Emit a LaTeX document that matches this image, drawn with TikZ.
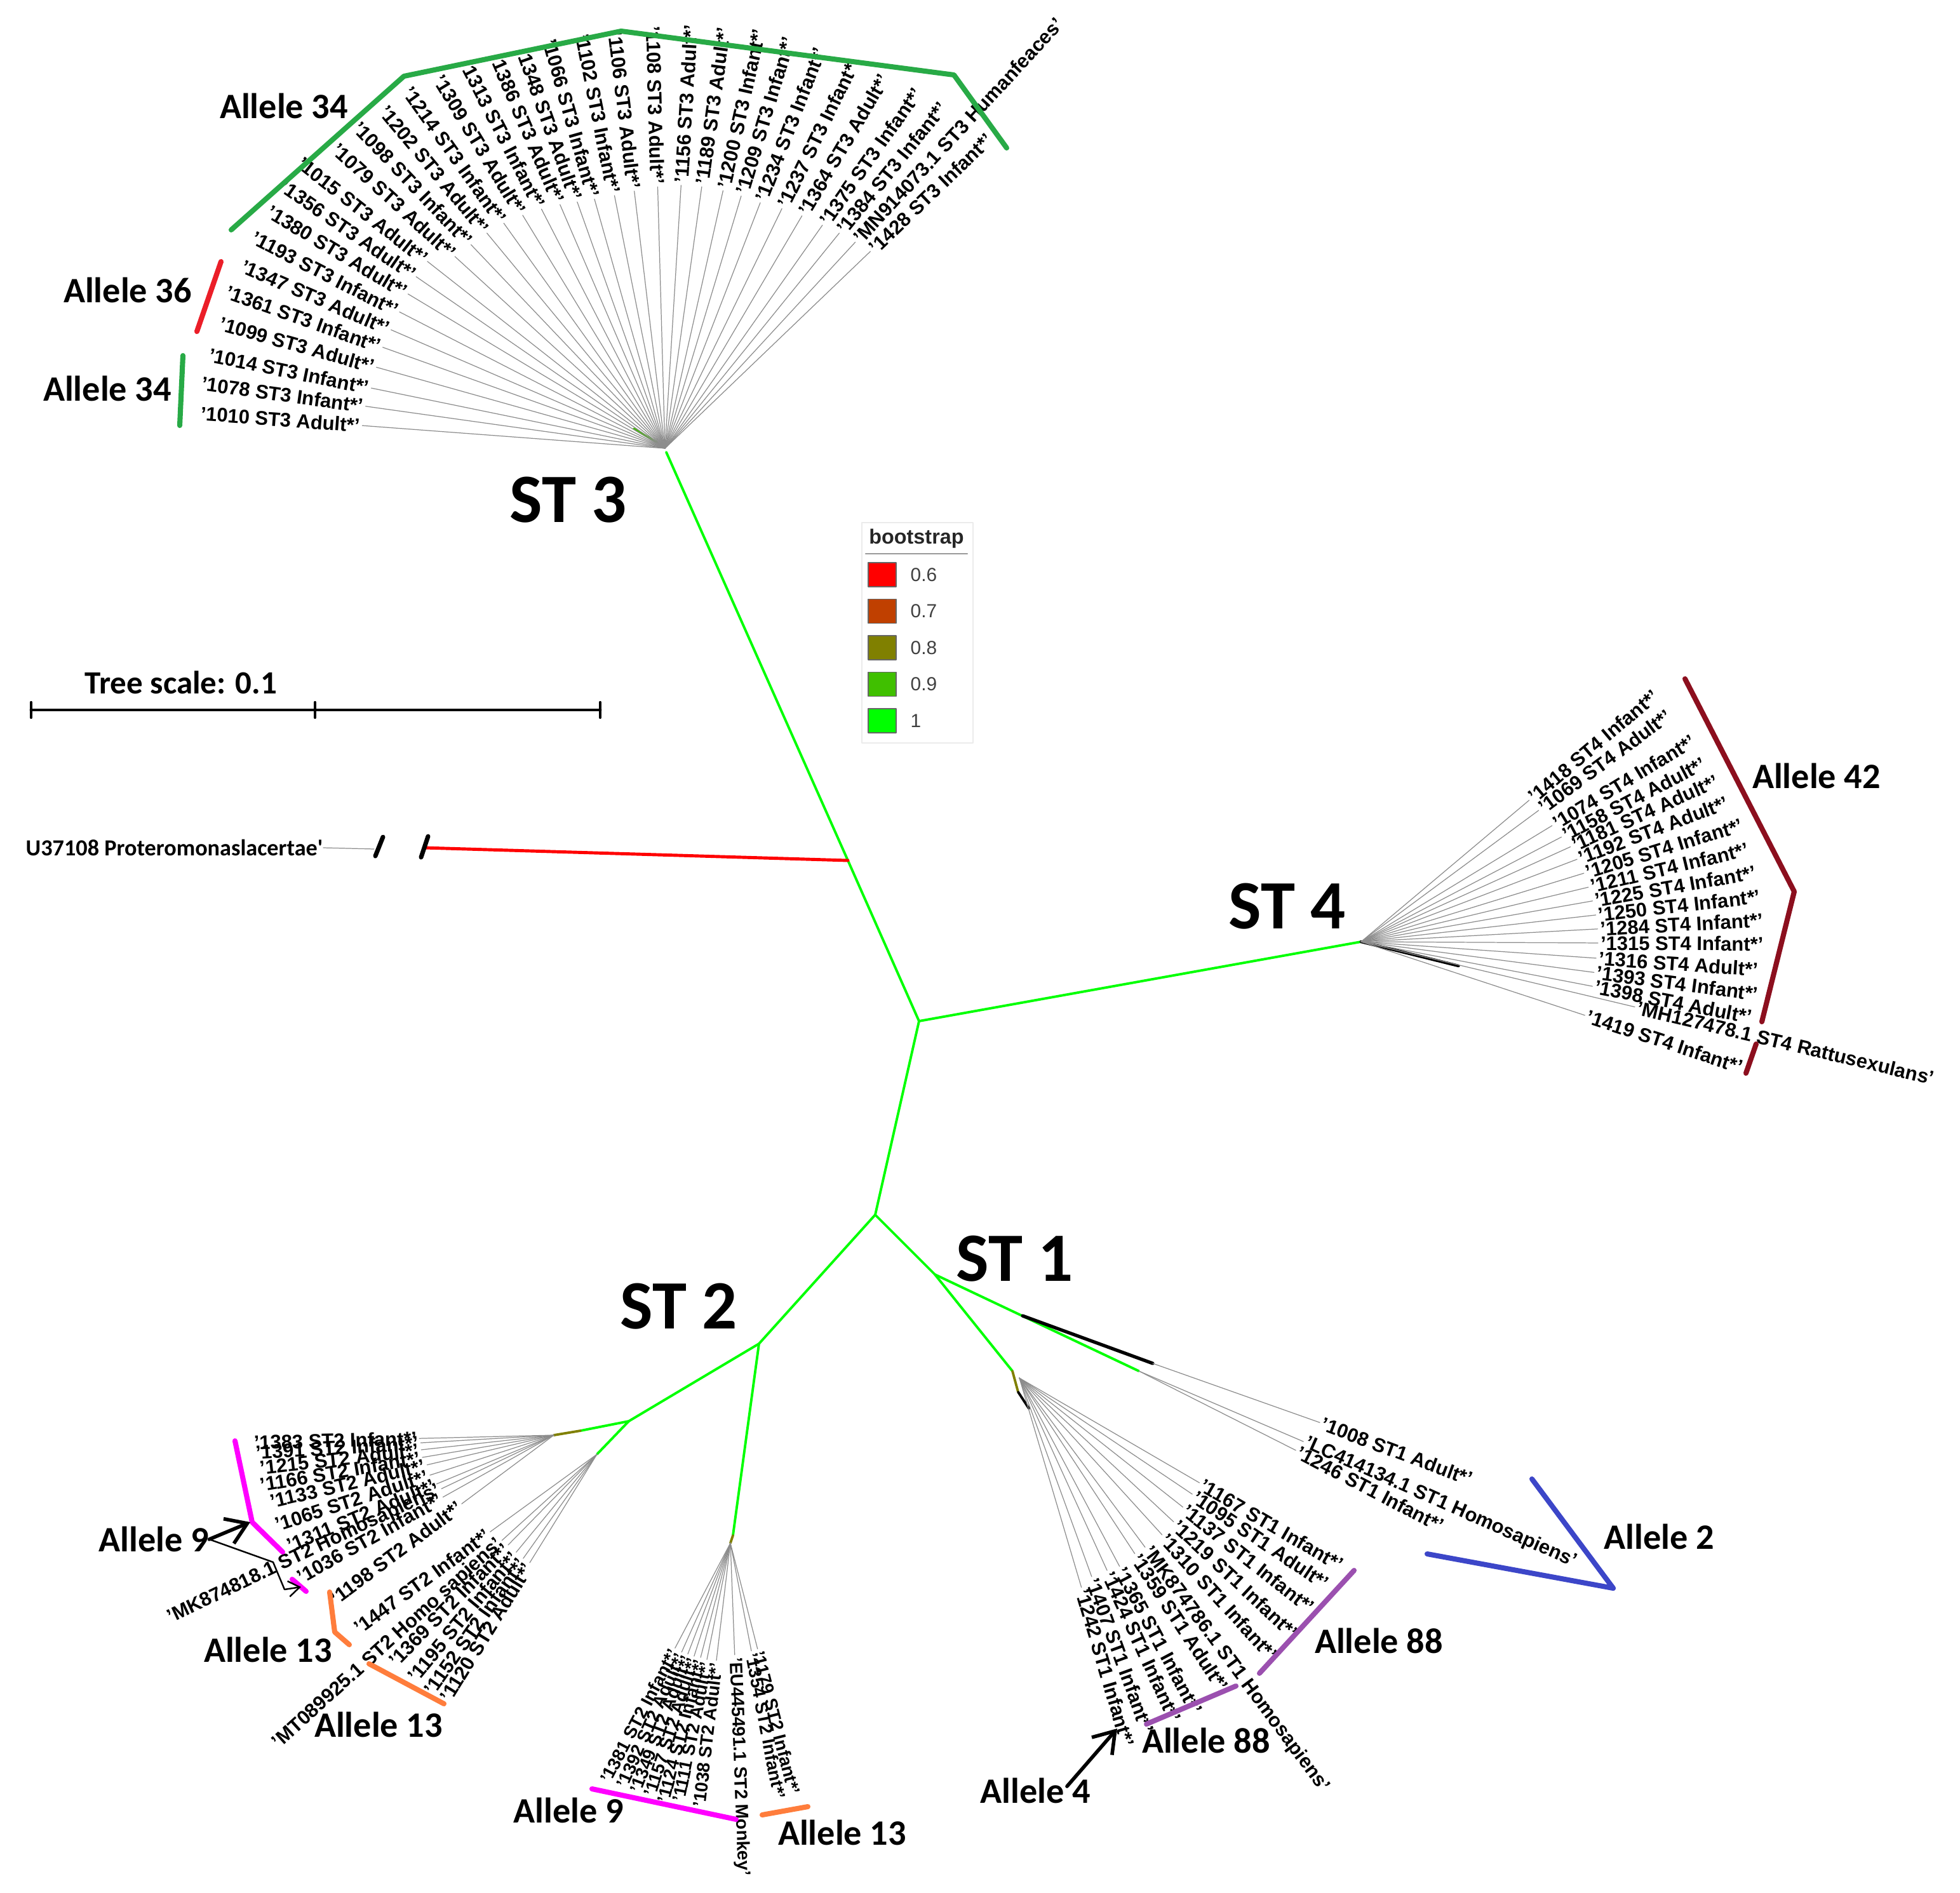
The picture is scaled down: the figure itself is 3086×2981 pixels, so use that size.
\documentclass[tikz,border=0pt]{standalone}
\usepackage{fontspec}
\setmainfont{Liberation Sans}
\newfontfamily\calfont{Carlito}
\usetikzlibrary{arrows.meta}
\definecolor{bs6}{RGB}{255,0,0}
\definecolor{bs7}{RGB}{192,64,0}
\definecolor{bs8}{RGB}{128,128,0}
\definecolor{bs9}{RGB}{64,192,0}
\definecolor{bs10}{RGB}{0,255,0}
\definecolor{al34}{RGB}{40,170,70}
\definecolor{al36}{RGB}{235,30,40}
\definecolor{al42}{RGB}{140,15,30}
\definecolor{al2}{RGB}{60,70,200}
\definecolor{al88}{RGB}{155,80,175}
\definecolor{al9}{RGB}{255,0,255}
\definecolor{al13}{RGB}{255,125,60}
\begin{document}
\begin{tikzpicture}[x=0.01cm, y=0.01cm, line join=round, line cap=round,
	leaf/.style={draw=black!45, line width=0.35pt},
	lab/.style={font=\bfseries\fontsize{8.8}{10}\selectfont, inner sep=1pt},
	smalllab/.style={lab, font=\bfseries\fontsize{8}{9}\selectfont},
	branch/.style={draw=bs10, line width=1.1pt},
	bracket/.style={line width=2.3pt},
	allele/.style={font=\calfont\bfseries\fontsize{16}{18}\selectfont, inner sep=0pt},
	stname/.style={font=\calfont\bfseries\fontsize{31}{34}\selectfont, inner sep=0pt},
	pointer/.style={line width=1.6pt, -{Straight Barb[length=9pt, width=12pt]}}]
	\useasboundingbox (0,0) rectangle (3086,-2981);
	%Main nodes
	\coordinate (st3) at (1049,-712);
	\coordinate (og) at (1335,-1355);
	\coordinate (ctr) at (1447,-1608);
	\coordinate (st4) at (2143,-1483);
	\coordinate (low) at (1378,-1913);
	\coordinate (st1) at (1472,-2007);
	\coordinate (st2) at (1195,-2116);
	\draw[branch] (st3) -- (og) -- (ctr) -- (st4);
	\draw[branch] (ctr) -- (low) -- (st1);
	\draw[branch] (low) -- (st2);
	%Outgroup
	\coordinate (ogcut) at (668,-1335);
	\draw[draw=bs6, line width=1.4pt] (og) -- (ogcut);
	\draw[line width=2pt] (603,-1318) -- (591,-1348) (674,-1317) -- (663,-1350);
	\node[font=\calfont\bfseries\fontsize{10.3}{12}\selectfont, anchor=east, inner sep=0pt] (ogname) at (509,-1335) {U37108 Proteromonaslacertae'};
	\draw[leaf] (ogname.east) -- (589,-1337);
	%Tree scale
	\node[font=\calfont\bfseries\fontsize{14.5}{16}\selectfont] (scalelab) at (285,-1075) {Tree scale: 0.1};
	\draw[line width=1.4pt] (49,-1118) -- (945,-1118);
	\foreach \x in {49,496,945}
	\draw[line width=1.2pt] (\x,-1106) -- (\x,-1130);
	%Legend
	\draw[draw=black!8, line width=0.5pt] (1357,-823) rectangle (1532,-1170);
	\node[font=\bfseries\fontsize{9.2}{10}\selectfont, text=black!85] (legtitle) at (1443,-848) {bootstrap};
	\draw[draw=black!40, line width=0.7pt] (1363,-872) -- (1523,-872);
	\foreach \c/\v [count=\i] in {bs6/0.6, bs7/0.7, bs8/0.8, bs9/0.9, bs10/1} {
		\node[draw=black!60, fill=\c, minimum width=12.5pt, minimum height=10.8pt, inner sep=0pt] (sq\i) at (1389,{-905-(\i-1)*57.5}) {};
		\node[anchor=west, inner sep=0pt, font=\fontsize{8.5}{10}\selectfont, text=black!75] (val\i) at (1433,{-905-(\i-1)*57.5}) {\v};
	}
	%ST3
	\coordinate (st3f) at (1047,-706);
	\draw[draw=bs9, line width=1pt] (998,-675) -- (1035,-697);
	\foreach \a/\r/\t [count=\i, evaluate=\a as \b using \a+180] in {175.7/478/1010 ST3 Adult*, 172/476/1078 ST3 Infant*, 168.4/472/1014 ST3 Infant*, 164.3/472/1099 ST3 Adult*, 160.3/472/1361 ST3 Infant*, 156.6/470/1347 ST3 Adult*, 152.8/470/1193 ST3 Infant*, 149/472/1380 ST3 Adult*, 145.4/476/1356 ST3 Adult*, 141.8/476/1015 ST3 Adult*, 137.6/448/1079 ST3 Adult*, 133.6/443/1098 ST3 Infant*, 129.6/440/1202 ST3 Adult*, 125.6/436/1214 ST3 Infant*, 121.4/430/1309 ST3 Adult*, 117.3/424/1313 ST3 Infant*, 113.3/418/1386 ST3 Adult*, 109.6/412/1348 ST3 Adult*, 105.8/408/1066 ST3 Infant*, 101.3/406/1102 ST3 Infant*, 96.8/408/1106 ST3 Adult*, 91.6/412/1108 ST3 Adult*}
	\draw[leaf] (st3f) -- ++(\a:\r) node[lab, anchor=east, rotate=\b] (l3-\i) {'\t'};
	\foreach \a/\r/\t [count=\i] in {86.5/415/1156 ST3 Adult*, 82/416/1189 ST3 Adult*, 77.3/416/1200 ST3 Infant*, 73.2/415/1209 ST3 Infant*, 68.8/415/1234 ST3 Infant*, 64/420/1237 ST3 Infant*, 59.5/425/1364 ST3 Adult*, 54.8/430/1375 ST3 Infant*, 51/436/1384 ST3 Infant*, 47.3/442/MN914073.1 ST3 Humanfeaces, 43.8/448/1428 ST3 Infant*}
	\draw[leaf] (st3f) -- ++(\a:\r) node[lab, anchor=west, rotate=\a] (r3-\i) {'\t'};
	\draw[bracket, al34] (364,-362) -- (636,-120) -- (978,-49) -- (1502,-118) -- (1585,-233);
	\draw[bracket, al36] (348,-412) -- (310,-522);
	\draw[bracket, al34] (288,-560) -- (283,-670);
	\node[allele] (a34t) at (447,-167) {Allele 34};
	\node[allele] (a36) at (201,-457) {Allele 36};
	\node[allele] (a34b) at (169,-612) {Allele 34};
	\node[stname] (n3) at (895,-787) {ST 3};
	%ST4
	\draw[line width=1.3pt] (st4) -- ++(-13.9:158);
	\foreach \a/\r/\t [count=\i] in {40.1/346/1418 ST4 Infant*, 36.5/348/1069 ST4 Adult*, 31.3/352/1074 ST4 Infant*, 27.6/356/1158 ST4 Adult*, 24.4/362/1181 ST4 Adult*, 20.9/364/1192 ST4 Adult*, 17.1/367/1205 ST4 Infant*, 13.5/368/1211 ST4 Infant*, 10/370/1225 ST4 Infant*, 6.5/372/1250 ST4 Infant*, 3.1/373/1284 ST4 Infant*, -0.3/373/1315 ST4 Infant*, -4/371/1316 ST4 Adult*, -7.5/370/1393 ST4 Infant*, -10.9/371/1398 ST4 Adult*, -13.4/443/MH127478.1 ST4 Rattusexulans, -18.2/371/1419 ST4 Infant*}
	\draw[leaf] (st4) -- ++(\a:\r) node[lab, anchor=west, rotate=\a] (s4-\i) {'\t'};
	\draw[bracket, al42] (2653,-1069) -- (2825,-1404) -- (2774,-1609);
	\draw[bracket, al42] (2765,-1644) -- (2749,-1690);
	\node[allele] (a42) at (2860,-1222) {Allele 42};
	\node[stname] (n4) at (2027,-1427) {ST 4};
	%ST1
	\coordinate (st1a) at (1594,-2159);
	\coordinate (st1f) at (1605,-2170);
	\coordinate (st1n) at (1610,-2072);
	\coordinate (st1k) at (1815,-2147);
	\coordinate (st1b) at (1793,-2159);
	\draw[branch] (st1) -- (st1a);
	\draw[branch] (st1) -- (st1b);
	\draw[line width=1.5pt] (st1n) -- (st1k);
	\draw[branch, draw=bs8] (st1a) -- (1603,-2192);
	\draw[line width=1.1pt] (1603,-2192) -- (1620,-2218);
	\foreach \a/\r/\t [count=\i] in {-30.2/328/1167 ST1 Infant*, -33.9/328/1095 ST1 Adult*, -38.3/328/1137 ST1 Infant*, -43/332/1219 ST1 Infant*, -47.7/334/1310 ST1 Infant*, -53.4/332/MK874786.1 ST1 Homosapiens, -56.7/331/1359 ST1 Adult*, -62/336/1365 ST1 Infant*, -65.5/333/1424 ST1 Infant*, -70/333/1407 ST1 Infant*, -73.5/344/1242 ST1 Infant*}
	\draw[leaf] (st1f) -- ++(\a:\r) node[lab, anchor=west, rotate=\a] (s1-\i) {'\t'};
	\draw[leaf] (st1k) -- ++(-19.5:279) node[lab, anchor=west, rotate=-20.5] (s1-12) {'1008 ST1 Adult*'};
	\draw[leaf] (st1b) -- ++(-23.2:282) node[lab, anchor=west, rotate=-24] (s1-13) {'LC414134.1 ST1 Homosapiens'};
	\draw[leaf] (st1b) -- ++(-26.8:277) node[lab, anchor=west, rotate=-27.5] (s1-14) {'1246 ST1 Infant*'};
	\draw[bracket, al2] (2412,-2329) -- (2540,-2501) -- (2247,-2447);
	\draw[bracket, al88] (2132,-2473) -- (1983,-2635);
	\draw[bracket, al88] (1946,-2655) -- (1805,-2715);
	\node[allele] (a2) at (2612,-2420) {Allele 2};
	\node[allele] (a88a) at (2171,-2584) {Allele 88};
	\node[allele] (a88b) at (1899,-2741) {Allele 88};
	\node[allele] (a4) at (1630,-2820) {Allele 4};
	\draw[pointer] (1680,-2813) -- (1759,-2722);
	\node[stname] (n1) at (1598,-1982) {ST 1};
	%ST2
	\coordinate (st2j) at (990,-2238);
	\coordinate (st2ak) at (914,-2253);
	\coordinate (st2a) at (872,-2260);
	\coordinate (st2b) at (940,-2290);
	\coordinate (st2ck) at (1154,-2418);
	\coordinate (st2c) at (1150,-2430);
	\draw[branch] (st2) -- (st2j) -- (st2ak);
	\draw[branch, draw=bs8] (st2ak) -- (st2a);
	\draw[branch] (st2j) -- (st2b);
	\draw[branch] (st2) -- (st2ck);
	\draw[branch, draw=bs8] (st2ck) -- (st2c);
	\foreach \a/\r/\t [count=\i, evaluate=\a as \b using \a-180] in {181.4/212/1383 ST2 Infant*, 183.3/210/1391 ST2 Infant*, 186.3/210/1215 ST2 Adult*, 189.6/210/1166 ST2 Infant*, 193.2/205/1133 ST2 Adult*, 197.9/205/1065 ST2 Adult*, 202.6/200/1311 ST2 Adult*, 205.5/196/MK874818.1 ST2 Homosapiens, 209.2/200/1036 ST2 Infant*, 216.7/181/1198 ST2 Adult*}
	\draw[leaf] (st2a) -- ++(\a:\r) node[lab, anchor=east, rotate=\b] (s2a-\i) {'\t'};
	\foreach \a/\r/\t [count=\i, evaluate=\a as \b using \a-180] in {216/208/1447 ST2 Infant*, 222.2/202/MT089925.1 ST2 Homo sapiens, 225.6/200/1369 ST2 Infant*, 230.5/200/1195 ST2 Infant*, 234.7/201/1152 ST2 Infant*, 238.2/201/1120 ST2 Adult*}
	\draw[leaf] (st2b) -- ++(\a:\r) node[lab, anchor=east, rotate=\b] (s2b-\i) {'\t'};
	\foreach \a/\r/\t [count=\i, evaluate=\a as \b using \a-180] in {242.2/187/1381 ST2 Infant*, 245.9/188/1392 ST2 Adult*, 249/187/1349 ST2 Adult*, 252.2/187/1157 ST2 Adult*, 255.4/186/1124 ST2 Infant*, 258.6/187/1111 ST2 Adult*, 263.2/186/1038 ST2 Adult*}
	\draw[leaf] (st2c) -- ++(\a:\r) node[smalllab, anchor=east, rotate=\b] (s2c-\i) {'\t'};
	\foreach \a/\r/\t [count=\i] in {-87.8/176/EU445491.1 ST2 Monkey, -79/173/1354 ST2 Infant*, -75.6/172/1179 ST2 Infant*}
	\draw[leaf] (st2c) -- ++(\a:\r) node[smalllab, anchor=west, rotate=\a] (s2d-\i) {'\t'};
	\draw[bracket, al9] (370,-2269) -- (397,-2397) -- (445,-2444);
	\draw[bracket, al9] (460,-2487) -- (482,-2506);
	\draw[bracket, al13] (519,-2507) -- (527,-2570) -- (550,-2590);
	\draw[bracket, al13] (581,-2620) -- (699,-2683);
	\draw[bracket, al9] (932,-2817) -- (1159,-2865);
	\draw[bracket, al13] (1200,-2858) -- (1272,-2845);
	\node[allele] (a9a) at (242,-2424) {Allele 9};
	\node[allele] (a13a) at (422,-2598) {Allele 13};
	\node[allele] (a13b) at (596,-2716) {Allele 13};
	\node[allele] (a9b) at (895,-2851) {Allele 9};
	\node[allele] (a13c) at (1326,-2886) {Allele 13};
	\draw[pointer] (a9a.east) -- (394,-2397);
	\draw[line width=0.7pt, -{Straight Barb[length=5pt, width=7pt]}] (a9a.east) -- (430,-2460) -- (448,-2503) -- (474,-2499);
	\node[stname] (n2) at (1069,-2057) {ST 2};
\end{tikzpicture}
\end{document}
